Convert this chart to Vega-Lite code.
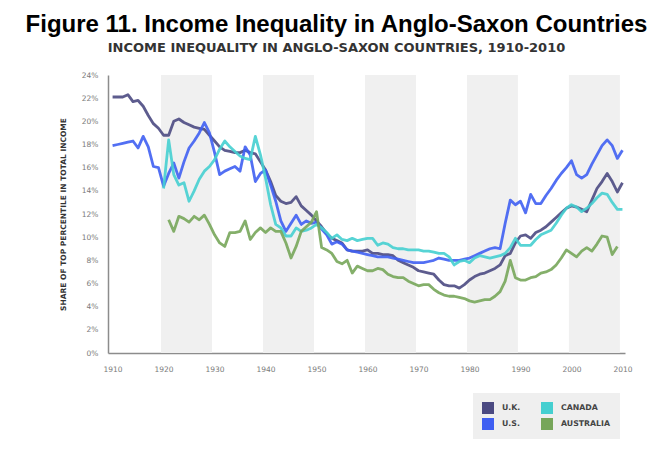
{
  "$schema": "https://vega.github.io/schema/vega-lite/v6.json",
  "width": 517,
  "height": 278,
  "autosize": "none",
  "padding": {"left": 108, "top": 75, "right": 27, "bottom": 103},
  "background": "white",
  "title": {
    "text": "Figure 11. Income Inequality in Anglo-Saxon Countries",
    "subtitle": "INCOME INEQUALITY IN ANGLO-SAXON COUNTRIES, 1910-2010",
    "anchor": "middle",
    "frame": "group",
    "dx": -30,
    "offset": 16,
    "font": "Liberation Sans",
    "fontSize": 24,
    "fontWeight": "bold",
    "color": "#000000",
    "subtitleFont": "DejaVu Sans",
    "subtitleFontSize": 13,
    "subtitleFontWeight": "bold",
    "subtitleColor": "#333333",
    "subtitlePadding": 5
  },
  "datasets": {
    "bands": [
      {"start": 1919.5, "end": 1929.5, "lo": 0, "hi": 24},
      {"start": 1939.5, "end": 1949.5, "lo": 0, "hi": 24},
      {"start": 1959.5, "end": 1969.5, "lo": 0, "hi": 24},
      {"start": 1979.5, "end": 1989.5, "lo": 0, "hi": 24},
      {"start": 1999.5, "end": 2009.5, "lo": 0, "hi": 24}
    ],
    "series": [
      {"country": "U.K.", "year": 1910, "share": 22.1}, {"country": "U.K.", "year": 1911, "share": 22.1}, {"country": "U.K.", "year": 1912, "share": 22.1}, {"country": "U.K.", "year": 1913, "share": 22.3}, {"country": "U.K.", "year": 1914, "share": 21.7}, {"country": "U.K.", "year": 1915, "share": 21.8}, {"country": "U.K.", "year": 1916, "share": 21.3}, {"country": "U.K.", "year": 1917, "share": 20.5}, {"country": "U.K.", "year": 1918, "share": 19.8}, {"country": "U.K.", "year": 1919, "share": 19.4}, {"country": "U.K.", "year": 1920, "share": 18.8}, {"country": "U.K.", "year": 1921, "share": 18.8}, {"country": "U.K.", "year": 1922, "share": 20.0}, {"country": "U.K.", "year": 1923, "share": 20.2}, {"country": "U.K.", "year": 1924, "share": 19.9}, {"country": "U.K.", "year": 1925, "share": 19.7}, {"country": "U.K.", "year": 1926, "share": 19.5}, {"country": "U.K.", "year": 1927, "share": 19.4}, {"country": "U.K.", "year": 1928, "share": 19.3}, {"country": "U.K.", "year": 1929, "share": 18.8}, {"country": "U.K.", "year": 1930, "share": 18.3}, {"country": "U.K.", "year": 1931, "share": 17.8}, {"country": "U.K.", "year": 1932, "share": 17.5}, {"country": "U.K.", "year": 1933, "share": 17.4}, {"country": "U.K.", "year": 1934, "share": 17.3}, {"country": "U.K.", "year": 1935, "share": 17.3}, {"country": "U.K.", "year": 1936, "share": 17.5}, {"country": "U.K.", "year": 1937, "share": 17.3}, {"country": "U.K.", "year": 1938, "share": 17.2}, {"country": "U.K.", "year": 1939, "share": 16.5}, {"country": "U.K.", "year": 1940, "share": 15.8}, {"country": "U.K.", "year": 1941, "share": 14.8}, {"country": "U.K.", "year": 1942, "share": 13.6}, {"country": "U.K.", "year": 1943, "share": 13.1}, {"country": "U.K.", "year": 1944, "share": 12.9}, {"country": "U.K.", "year": 1945, "share": 13.0}, {"country": "U.K.", "year": 1946, "share": 13.5}, {"country": "U.K.", "year": 1947, "share": 12.7}, {"country": "U.K.", "year": 1948, "share": 12.3}, {"country": "U.K.", "year": 1949, "share": 11.9}, {"country": "U.K.", "year": 1950, "share": 11.4}, {"country": "U.K.", "year": 1951, "share": 10.9}, {"country": "U.K.", "year": 1952, "share": 10.3}, {"country": "U.K.", "year": 1953, "share": 9.9}, {"country": "U.K.", "year": 1954, "share": 9.7}, {"country": "U.K.", "year": 1955, "share": 9.5}, {"country": "U.K.", "year": 1956, "share": 8.9}, {"country": "U.K.", "year": 1957, "share": 8.8}, {"country": "U.K.", "year": 1958, "share": 8.8}, {"country": "U.K.", "year": 1959, "share": 8.8}, {"country": "U.K.", "year": 1960, "share": 8.9}, {"country": "U.K.", "year": 1961, "share": 8.6}, {"country": "U.K.", "year": 1962, "share": 8.6}, {"country": "U.K.", "year": 1963, "share": 8.5}, {"country": "U.K.", "year": 1964, "share": 8.5}, {"country": "U.K.", "year": 1965, "share": 8.4}, {"country": "U.K.", "year": 1966, "share": 8.0}, {"country": "U.K.", "year": 1967, "share": 7.8}, {"country": "U.K.", "year": 1968, "share": 7.6}, {"country": "U.K.", "year": 1969, "share": 7.4}, {"country": "U.K.", "year": 1970, "share": 7.1}, {"country": "U.K.", "year": 1971, "share": 7.0}, {"country": "U.K.", "year": 1972, "share": 6.9}, {"country": "U.K.", "year": 1973, "share": 6.8}, {"country": "U.K.", "year": 1974, "share": 6.3}, {"country": "U.K.", "year": 1975, "share": 5.9}, {"country": "U.K.", "year": 1976, "share": 5.8}, {"country": "U.K.", "year": 1977, "share": 5.8}, {"country": "U.K.", "year": 1978, "share": 5.6}, {"country": "U.K.", "year": 1979, "share": 5.9}, {"country": "U.K.", "year": 1980, "share": 6.3}, {"country": "U.K.", "year": 1981, "share": 6.6}, {"country": "U.K.", "year": 1982, "share": 6.8}, {"country": "U.K.", "year": 1983, "share": 6.9}, {"country": "U.K.", "year": 1984, "share": 7.1}, {"country": "U.K.", "year": 1985, "share": 7.3}, {"country": "U.K.", "year": 1986, "share": 7.6}, {"country": "U.K.", "year": 1987, "share": 8.4}, {"country": "U.K.", "year": 1988, "share": 8.6}, {"country": "U.K.", "year": 1989, "share": 9.5}, {"country": "U.K.", "year": 1990, "share": 10.1}, {"country": "U.K.", "year": 1991, "share": 10.2}, {"country": "U.K.", "year": 1992, "share": 9.9}, {"country": "U.K.", "year": 1993, "share": 10.4}, {"country": "U.K.", "year": 1994, "share": 10.6}, {"country": "U.K.", "year": 1995, "share": 10.9}, {"country": "U.K.", "year": 1996, "share": 11.3}, {"country": "U.K.", "year": 1997, "share": 11.7}, {"country": "U.K.", "year": 1998, "share": 12.1}, {"country": "U.K.", "year": 1999, "share": 12.5}, {"country": "U.K.", "year": 2000, "share": 12.7}, {"country": "U.K.", "year": 2001, "share": 12.6}, {"country": "U.K.", "year": 2002, "share": 12.4}, {"country": "U.K.", "year": 2003, "share": 12.2}, {"country": "U.K.", "year": 2004, "share": 13.2}, {"country": "U.K.", "year": 2005, "share": 14.2}, {"country": "U.K.", "year": 2006, "share": 14.8}, {"country": "U.K.", "year": 2007, "share": 15.5}, {"country": "U.K.", "year": 2008, "share": 14.8}, {"country": "U.K.", "year": 2009, "share": 13.9}, {"country": "U.K.", "year": 2010, "share": 14.7},

      {"country": "U.S.", "year": 1910, "share": 17.9}, {"country": "U.S.", "year": 1911, "share": 18.0}, {"country": "U.S.", "year": 1912, "share": 18.1}, {"country": "U.S.", "year": 1913, "share": 18.2}, {"country": "U.S.", "year": 1914, "share": 18.3}, {"country": "U.S.", "year": 1915, "share": 17.7}, {"country": "U.S.", "year": 1916, "share": 18.7}, {"country": "U.S.", "year": 1917, "share": 17.8}, {"country": "U.S.", "year": 1918, "share": 16.1}, {"country": "U.S.", "year": 1919, "share": 16.0}, {"country": "U.S.", "year": 1920, "share": 14.4}, {"country": "U.S.", "year": 1921, "share": 15.5}, {"country": "U.S.", "year": 1922, "share": 16.4}, {"country": "U.S.", "year": 1923, "share": 15.1}, {"country": "U.S.", "year": 1924, "share": 16.5}, {"country": "U.S.", "year": 1925, "share": 17.7}, {"country": "U.S.", "year": 1926, "share": 18.3}, {"country": "U.S.", "year": 1927, "share": 19.0}, {"country": "U.S.", "year": 1928, "share": 19.9}, {"country": "U.S.", "year": 1929, "share": 19.0}, {"country": "U.S.", "year": 1930, "share": 17.3}, {"country": "U.S.", "year": 1931, "share": 15.4}, {"country": "U.S.", "year": 1932, "share": 15.7}, {"country": "U.S.", "year": 1933, "share": 15.9}, {"country": "U.S.", "year": 1934, "share": 16.1}, {"country": "U.S.", "year": 1935, "share": 15.7}, {"country": "U.S.", "year": 1936, "share": 17.8}, {"country": "U.S.", "year": 1937, "share": 17.1}, {"country": "U.S.", "year": 1938, "share": 14.8}, {"country": "U.S.", "year": 1939, "share": 15.5}, {"country": "U.S.", "year": 1940, "share": 15.8}, {"country": "U.S.", "year": 1941, "share": 14.5}, {"country": "U.S.", "year": 1942, "share": 13.1}, {"country": "U.S.", "year": 1943, "share": 11.4}, {"country": "U.S.", "year": 1944, "share": 10.5}, {"country": "U.S.", "year": 1945, "share": 11.2}, {"country": "U.S.", "year": 1946, "share": 11.9}, {"country": "U.S.", "year": 1947, "share": 11.1}, {"country": "U.S.", "year": 1948, "share": 11.4}, {"country": "U.S.", "year": 1949, "share": 11.2}, {"country": "U.S.", "year": 1950, "share": 11.3}, {"country": "U.S.", "year": 1951, "share": 10.7}, {"country": "U.S.", "year": 1952, "share": 10.2}, {"country": "U.S.", "year": 1953, "share": 9.4}, {"country": "U.S.", "year": 1954, "share": 9.6}, {"country": "U.S.", "year": 1955, "share": 9.4}, {"country": "U.S.", "year": 1956, "share": 8.9}, {"country": "U.S.", "year": 1957, "share": 8.8}, {"country": "U.S.", "year": 1958, "share": 8.7}, {"country": "U.S.", "year": 1959, "share": 8.6}, {"country": "U.S.", "year": 1960, "share": 8.5}, {"country": "U.S.", "year": 1961, "share": 8.4}, {"country": "U.S.", "year": 1962, "share": 8.3}, {"country": "U.S.", "year": 1963, "share": 8.3}, {"country": "U.S.", "year": 1964, "share": 8.3}, {"country": "U.S.", "year": 1965, "share": 8.2}, {"country": "U.S.", "year": 1966, "share": 8.1}, {"country": "U.S.", "year": 1967, "share": 8.0}, {"country": "U.S.", "year": 1968, "share": 7.9}, {"country": "U.S.", "year": 1969, "share": 7.8}, {"country": "U.S.", "year": 1970, "share": 7.8}, {"country": "U.S.", "year": 1971, "share": 7.8}, {"country": "U.S.", "year": 1972, "share": 7.9}, {"country": "U.S.", "year": 1973, "share": 8.0}, {"country": "U.S.", "year": 1974, "share": 8.2}, {"country": "U.S.", "year": 1975, "share": 8.1}, {"country": "U.S.", "year": 1976, "share": 8.0}, {"country": "U.S.", "year": 1977, "share": 8.0}, {"country": "U.S.", "year": 1978, "share": 8.0}, {"country": "U.S.", "year": 1979, "share": 8.1}, {"country": "U.S.", "year": 1980, "share": 8.2}, {"country": "U.S.", "year": 1981, "share": 8.4}, {"country": "U.S.", "year": 1982, "share": 8.6}, {"country": "U.S.", "year": 1983, "share": 8.8}, {"country": "U.S.", "year": 1984, "share": 9.0}, {"country": "U.S.", "year": 1985, "share": 9.1}, {"country": "U.S.", "year": 1986, "share": 9.0}, {"country": "U.S.", "year": 1987, "share": 11.2}, {"country": "U.S.", "year": 1988, "share": 13.2}, {"country": "U.S.", "year": 1989, "share": 12.8}, {"country": "U.S.", "year": 1990, "share": 13.1}, {"country": "U.S.", "year": 1991, "share": 12.1}, {"country": "U.S.", "year": 1992, "share": 13.7}, {"country": "U.S.", "year": 1993, "share": 12.9}, {"country": "U.S.", "year": 1994, "share": 12.9}, {"country": "U.S.", "year": 1995, "share": 13.6}, {"country": "U.S.", "year": 1996, "share": 14.2}, {"country": "U.S.", "year": 1997, "share": 14.9}, {"country": "U.S.", "year": 1998, "share": 15.5}, {"country": "U.S.", "year": 1999, "share": 16.0}, {"country": "U.S.", "year": 2000, "share": 16.6}, {"country": "U.S.", "year": 2001, "share": 15.4}, {"country": "U.S.", "year": 2002, "share": 15.1}, {"country": "U.S.", "year": 2003, "share": 15.4}, {"country": "U.S.", "year": 2004, "share": 16.3}, {"country": "U.S.", "year": 2005, "share": 17.1}, {"country": "U.S.", "year": 2006, "share": 17.9}, {"country": "U.S.", "year": 2007, "share": 18.4}, {"country": "U.S.", "year": 2008, "share": 17.9}, {"country": "U.S.", "year": 2009, "share": 16.8}, {"country": "U.S.", "year": 2010, "share": 17.5},

      {"country": "CANADA", "year": 1920, "share": 14.2}, {"country": "CANADA", "year": 1921, "share": 18.4}, {"country": "CANADA", "year": 1922, "share": 15.4}, {"country": "CANADA", "year": 1923, "share": 14.5}, {"country": "CANADA", "year": 1924, "share": 14.7}, {"country": "CANADA", "year": 1925, "share": 13.1}, {"country": "CANADA", "year": 1926, "share": 14.0}, {"country": "CANADA", "year": 1927, "share": 15.0}, {"country": "CANADA", "year": 1928, "share": 15.7}, {"country": "CANADA", "year": 1929, "share": 16.1}, {"country": "CANADA", "year": 1930, "share": 16.7}, {"country": "CANADA", "year": 1931, "share": 17.6}, {"country": "CANADA", "year": 1932, "share": 18.3}, {"country": "CANADA", "year": 1933, "share": 17.8}, {"country": "CANADA", "year": 1934, "share": 17.4}, {"country": "CANADA", "year": 1935, "share": 17.0}, {"country": "CANADA", "year": 1936, "share": 16.8}, {"country": "CANADA", "year": 1937, "share": 16.7}, {"country": "CANADA", "year": 1938, "share": 18.7}, {"country": "CANADA", "year": 1939, "share": 17.1}, {"country": "CANADA", "year": 1940, "share": 15.1}, {"country": "CANADA", "year": 1941, "share": 12.8}, {"country": "CANADA", "year": 1942, "share": 11.1}, {"country": "CANADA", "year": 1943, "share": 10.8}, {"country": "CANADA", "year": 1944, "share": 10.1}, {"country": "CANADA", "year": 1945, "share": 10.1}, {"country": "CANADA", "year": 1946, "share": 10.8}, {"country": "CANADA", "year": 1947, "share": 10.5}, {"country": "CANADA", "year": 1948, "share": 10.6}, {"country": "CANADA", "year": 1949, "share": 10.8}, {"country": "CANADA", "year": 1950, "share": 11.1}, {"country": "CANADA", "year": 1951, "share": 10.8}, {"country": "CANADA", "year": 1952, "share": 10.4}, {"country": "CANADA", "year": 1953, "share": 9.9}, {"country": "CANADA", "year": 1954, "share": 10.2}, {"country": "CANADA", "year": 1955, "share": 9.8}, {"country": "CANADA", "year": 1956, "share": 9.7}, {"country": "CANADA", "year": 1957, "share": 9.9}, {"country": "CANADA", "year": 1958, "share": 9.7}, {"country": "CANADA", "year": 1959, "share": 9.8}, {"country": "CANADA", "year": 1960, "share": 9.9}, {"country": "CANADA", "year": 1961, "share": 9.9}, {"country": "CANADA", "year": 1962, "share": 9.3}, {"country": "CANADA", "year": 1963, "share": 9.5}, {"country": "CANADA", "year": 1964, "share": 9.4}, {"country": "CANADA", "year": 1965, "share": 9.1}, {"country": "CANADA", "year": 1966, "share": 9.0}, {"country": "CANADA", "year": 1967, "share": 9.0}, {"country": "CANADA", "year": 1968, "share": 8.9}, {"country": "CANADA", "year": 1969, "share": 8.9}, {"country": "CANADA", "year": 1970, "share": 8.9}, {"country": "CANADA", "year": 1971, "share": 8.8}, {"country": "CANADA", "year": 1972, "share": 8.8}, {"country": "CANADA", "year": 1973, "share": 8.7}, {"country": "CANADA", "year": 1974, "share": 8.6}, {"country": "CANADA", "year": 1975, "share": 8.6}, {"country": "CANADA", "year": 1976, "share": 8.3}, {"country": "CANADA", "year": 1977, "share": 7.6}, {"country": "CANADA", "year": 1978, "share": 7.9}, {"country": "CANADA", "year": 1979, "share": 8.0}, {"country": "CANADA", "year": 1980, "share": 7.8}, {"country": "CANADA", "year": 1981, "share": 8.2}, {"country": "CANADA", "year": 1982, "share": 8.4}, {"country": "CANADA", "year": 1983, "share": 8.3}, {"country": "CANADA", "year": 1984, "share": 8.2}, {"country": "CANADA", "year": 1985, "share": 8.3}, {"country": "CANADA", "year": 1986, "share": 8.4}, {"country": "CANADA", "year": 1987, "share": 8.6}, {"country": "CANADA", "year": 1988, "share": 9.1}, {"country": "CANADA", "year": 1989, "share": 9.9}, {"country": "CANADA", "year": 1990, "share": 9.3}, {"country": "CANADA", "year": 1991, "share": 9.3}, {"country": "CANADA", "year": 1992, "share": 9.3}, {"country": "CANADA", "year": 1993, "share": 9.8}, {"country": "CANADA", "year": 1994, "share": 10.2}, {"country": "CANADA", "year": 1995, "share": 10.4}, {"country": "CANADA", "year": 1996, "share": 10.6}, {"country": "CANADA", "year": 1997, "share": 11.2}, {"country": "CANADA", "year": 1998, "share": 11.9}, {"country": "CANADA", "year": 1999, "share": 12.5}, {"country": "CANADA", "year": 2000, "share": 12.8}, {"country": "CANADA", "year": 2001, "share": 12.6}, {"country": "CANADA", "year": 2002, "share": 12.2}, {"country": "CANADA", "year": 2003, "share": 12.5}, {"country": "CANADA", "year": 2004, "share": 12.9}, {"country": "CANADA", "year": 2005, "share": 13.4}, {"country": "CANADA", "year": 2006, "share": 13.8}, {"country": "CANADA", "year": 2007, "share": 13.7}, {"country": "CANADA", "year": 2008, "share": 13.0}, {"country": "CANADA", "year": 2009, "share": 12.4}, {"country": "CANADA", "year": 2010, "share": 12.4},

      {"country": "AUSTRALIA", "year": 1921, "share": 11.5}, {"country": "AUSTRALIA", "year": 1922, "share": 10.5}, {"country": "AUSTRALIA", "year": 1923, "share": 11.8}, {"country": "AUSTRALIA", "year": 1924, "share": 11.6}, {"country": "AUSTRALIA", "year": 1925, "share": 11.3}, {"country": "AUSTRALIA", "year": 1926, "share": 11.8}, {"country": "AUSTRALIA", "year": 1927, "share": 11.5}, {"country": "AUSTRALIA", "year": 1928, "share": 11.9}, {"country": "AUSTRALIA", "year": 1929, "share": 11.1}, {"country": "AUSTRALIA", "year": 1930, "share": 10.2}, {"country": "AUSTRALIA", "year": 1931, "share": 9.5}, {"country": "AUSTRALIA", "year": 1932, "share": 9.2}, {"country": "AUSTRALIA", "year": 1933, "share": 10.4}, {"country": "AUSTRALIA", "year": 1934, "share": 10.4}, {"country": "AUSTRALIA", "year": 1935, "share": 10.5}, {"country": "AUSTRALIA", "year": 1936, "share": 11.4}, {"country": "AUSTRALIA", "year": 1937, "share": 9.8}, {"country": "AUSTRALIA", "year": 1938, "share": 10.4}, {"country": "AUSTRALIA", "year": 1939, "share": 10.8}, {"country": "AUSTRALIA", "year": 1940, "share": 10.4}, {"country": "AUSTRALIA", "year": 1941, "share": 10.8}, {"country": "AUSTRALIA", "year": 1942, "share": 10.5}, {"country": "AUSTRALIA", "year": 1943, "share": 10.5}, {"country": "AUSTRALIA", "year": 1944, "share": 9.5}, {"country": "AUSTRALIA", "year": 1945, "share": 8.2}, {"country": "AUSTRALIA", "year": 1946, "share": 9.2}, {"country": "AUSTRALIA", "year": 1947, "share": 10.5}, {"country": "AUSTRALIA", "year": 1948, "share": 10.9}, {"country": "AUSTRALIA", "year": 1949, "share": 11.3}, {"country": "AUSTRALIA", "year": 1950, "share": 12.2}, {"country": "AUSTRALIA", "year": 1951, "share": 9.1}, {"country": "AUSTRALIA", "year": 1952, "share": 8.9}, {"country": "AUSTRALIA", "year": 1953, "share": 8.6}, {"country": "AUSTRALIA", "year": 1954, "share": 7.9}, {"country": "AUSTRALIA", "year": 1955, "share": 7.7}, {"country": "AUSTRALIA", "year": 1956, "share": 8.0}, {"country": "AUSTRALIA", "year": 1957, "share": 6.9}, {"country": "AUSTRALIA", "year": 1958, "share": 7.5}, {"country": "AUSTRALIA", "year": 1959, "share": 7.3}, {"country": "AUSTRALIA", "year": 1960, "share": 7.1}, {"country": "AUSTRALIA", "year": 1961, "share": 7.1}, {"country": "AUSTRALIA", "year": 1962, "share": 7.3}, {"country": "AUSTRALIA", "year": 1963, "share": 7.2}, {"country": "AUSTRALIA", "year": 1964, "share": 6.8}, {"country": "AUSTRALIA", "year": 1965, "share": 6.6}, {"country": "AUSTRALIA", "year": 1966, "share": 6.5}, {"country": "AUSTRALIA", "year": 1967, "share": 6.5}, {"country": "AUSTRALIA", "year": 1968, "share": 6.2}, {"country": "AUSTRALIA", "year": 1969, "share": 6.0}, {"country": "AUSTRALIA", "year": 1970, "share": 5.8}, {"country": "AUSTRALIA", "year": 1971, "share": 5.9}, {"country": "AUSTRALIA", "year": 1972, "share": 5.9}, {"country": "AUSTRALIA", "year": 1973, "share": 5.5}, {"country": "AUSTRALIA", "year": 1974, "share": 5.2}, {"country": "AUSTRALIA", "year": 1975, "share": 5.0}, {"country": "AUSTRALIA", "year": 1976, "share": 4.9}, {"country": "AUSTRALIA", "year": 1977, "share": 4.9}, {"country": "AUSTRALIA", "year": 1978, "share": 4.8}, {"country": "AUSTRALIA", "year": 1979, "share": 4.7}, {"country": "AUSTRALIA", "year": 1980, "share": 4.5}, {"country": "AUSTRALIA", "year": 1981, "share": 4.4}, {"country": "AUSTRALIA", "year": 1982, "share": 4.5}, {"country": "AUSTRALIA", "year": 1983, "share": 4.6}, {"country": "AUSTRALIA", "year": 1984, "share": 4.6}, {"country": "AUSTRALIA", "year": 1985, "share": 4.9}, {"country": "AUSTRALIA", "year": 1986, "share": 5.3}, {"country": "AUSTRALIA", "year": 1987, "share": 6.2}, {"country": "AUSTRALIA", "year": 1988, "share": 8.0}, {"country": "AUSTRALIA", "year": 1989, "share": 6.5}, {"country": "AUSTRALIA", "year": 1990, "share": 6.3}, {"country": "AUSTRALIA", "year": 1991, "share": 6.3}, {"country": "AUSTRALIA", "year": 1992, "share": 6.5}, {"country": "AUSTRALIA", "year": 1993, "share": 6.6}, {"country": "AUSTRALIA", "year": 1994, "share": 6.9}, {"country": "AUSTRALIA", "year": 1995, "share": 7.0}, {"country": "AUSTRALIA", "year": 1996, "share": 7.2}, {"country": "AUSTRALIA", "year": 1997, "share": 7.6}, {"country": "AUSTRALIA", "year": 1998, "share": 8.2}, {"country": "AUSTRALIA", "year": 1999, "share": 8.9}, {"country": "AUSTRALIA", "year": 2000, "share": 8.6}, {"country": "AUSTRALIA", "year": 2001, "share": 8.3}, {"country": "AUSTRALIA", "year": 2002, "share": 8.8}, {"country": "AUSTRALIA", "year": 2003, "share": 9.1}, {"country": "AUSTRALIA", "year": 2004, "share": 8.8}, {"country": "AUSTRALIA", "year": 2005, "share": 9.4}, {"country": "AUSTRALIA", "year": 2006, "share": 10.1}, {"country": "AUSTRALIA", "year": 2007, "share": 10.0}, {"country": "AUSTRALIA", "year": 2008, "share": 8.5}, {"country": "AUSTRALIA", "year": 2009, "share": 9.2}
    ]
  },
  "config": {
    "view": {"stroke": null},
    "font": "DejaVu Sans",
    "axis": {
      "grid": false,
      "ticks": false,
      "domainColor": "#8c8c8c",
      "domainWidth": 1.5,
      "labelFont": "DejaVu Sans",
      "labelFontSize": 7.5,
      "labelColor": "#7a7a7a",
      "labelOverlap": false
    },
    "legend": {
      "labelFont": "DejaVu Sans",
      "labelFontSize": 7.8,
      "labelFontWeight": "bold",
      "labelColor": "#444444"
    }
  },
  "layer": [
    {
      "data": {"name": "bands"},
      "mark": {"type": "rect", "color": "#f0f0f0"},
      "encoding": {
        "x": {
          "field": "start",
          "type": "quantitative",
          "scale": {"domain": [1909.1, 2010.5], "nice": false, "zero": false},
          "axis": {
            "title": null,
            "values": [1910, 1920, 1930, 1940, 1950, 1960, 1970, 1980, 1990, 2000, 2010],
            "format": "d",
            "labelPadding": 12,
            "labelFlush": false,
            "labelOverlap": false
          }
        },
        "x2": {"field": "end"},
        "y": {
          "field": "lo",
          "type": "quantitative",
          "scale": {"domain": [0, 24], "nice": false},
          "axis": {
            "title": "SHARE OF TOP PERCENTILE IN TOTAL INCOME",
            "titleFont": "DejaVu Sans",
            "titleFontSize": 7.5,
            "titleFontWeight": "bold",
            "titleColor": "#333333",
            "titlePadding": 14,
            "values": [0, 2, 4, 6, 8, 10, 12, 14, 16, 18, 20, 22, 24],
            "labelExpr": "datum.value + '%'",
            "labelPadding": 10,
            "labelOverlap": false,
            "labelBound": false
          }
        },
        "y2": {"field": "hi"}
      }
    },
    {
      "data": {"name": "series"},
      "mark": {"type": "line", "strokeWidth": 2.8, "opacity": 0.9, "strokeJoin": "round"},
      "encoding": {
        "x": {
          "field": "year",
          "type": "quantitative",
          "scale": {"domain": [1909.1, 2010.5], "nice": false, "zero": false},
          "axis": {
            "title": null,
            "values": [1910, 1920, 1930, 1940, 1950, 1960, 1970, 1980, 1990, 2000, 2010],
            "format": "d",
            "labelPadding": 12,
            "labelFlush": false,
            "labelOverlap": false
          }
        },
        "y": {
          "field": "share",
          "type": "quantitative",
          "scale": {"domain": [0, 24], "nice": false},
          "axis": {
            "title": "SHARE OF TOP PERCENTILE IN TOTAL INCOME",
            "titleFont": "DejaVu Sans",
            "titleFontSize": 7.5,
            "titleFontWeight": "bold",
            "titleColor": "#333333",
            "titlePadding": 14,
            "values": [0, 2, 4, 6, 8, 10, 12, 14, 16, 18, 20, 22, 24],
            "labelExpr": "datum.value + '%'",
            "labelPadding": 10,
            "labelOverlap": false,
            "labelBound": false
          }
        },
        "color": {
          "field": "country",
          "type": "nominal",
          "scale": {
            "domain": ["U.K.", "U.S.", "CANADA", "AUSTRALIA"],
            "range": ["#4b4a82", "#3f5ff2", "#45cfd0", "#77a65a"]
          },
          "legend": {
            "title": null,
            "orient": "none",
            "legendX": 365,
            "legendY": 318,
            "columns": 2,
            "columnPadding": 20,
            "rowPadding": 4,
            "padding": 9,
            "fillColor": "#efefef",
            "symbolType": "square",
            "symbolSize": 144,
            "symbolStrokeWidth": 0,
            "symbolOpacity": 1,
            "labelOffset": 8,
            "encode": {
              "symbols": {
                "enter": {
                  "fill": {"scale": "color", "field": "value"},
                  "fillOpacity": {"value": 1}
                },
                "update": {
                  "fill": {"scale": "color", "field": "value"},
                  "fillOpacity": {"value": 1},
                  "strokeWidth": {"value": 0}
                }
              }
            }
          }
        },
        "order": {"field": "year", "type": "quantitative"}
      }
    }
  ]
}
